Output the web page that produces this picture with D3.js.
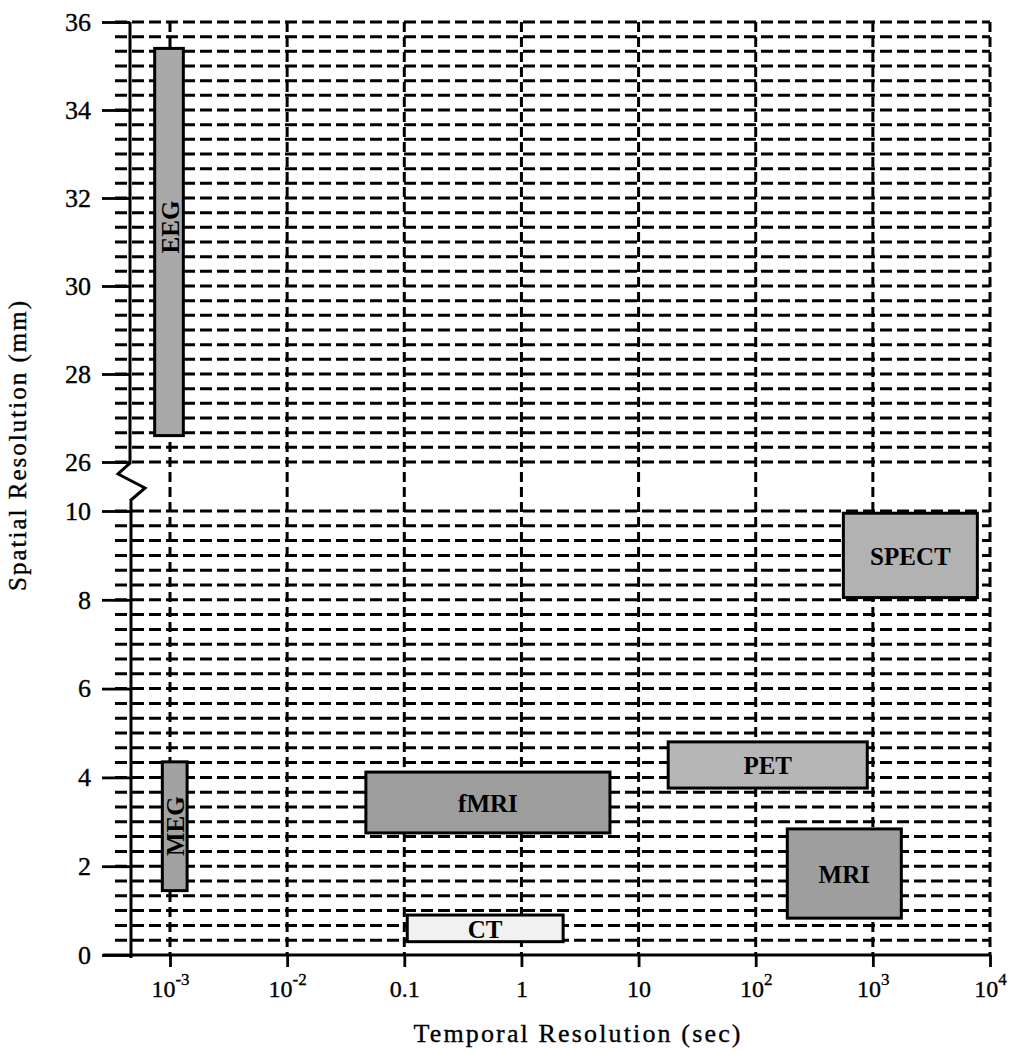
<!DOCTYPE html>
<html>
<head>
<meta charset="utf-8">
<script src="https://cdn.jsdelivr.net/npm/d3@7"></script>
<style>
  html, body { margin: 0; padding: 0; background: #fff; }
  svg { display: block; }
  text { font-family: "Liberation Serif", "DejaVu Serif", serif; fill: #000; }
  .ink { stroke: #000; stroke-width: 0.35px; }
</style>
</head>
<body>
<svg id="chart" width="1016" height="1053"></svg>
<script>
// Imaging modalities: temporal resolution (s) range and spatial resolution (mm) range
const modalities = ["EEG", "MEG", "fMRI", "CT", "PET", "MRI", "SPECT"];
const timeMin    = [0.00074, 0.00086, 0.047, 0.106, 17.9, 186, 560];
const timeMax    = [0.0013, 0.0014, 5.7, 2.27, 896, 1750, 7800];
const spaceMin   = [26.6, 1.45, 2.75, 0.3, 3.76, 0.83, 8.05];
const spaceMax   = [35.4, 4.35, 4.12, 0.9, 4.8, 2.84, 9.95];

// Axis ticks
const xTickValues = [1e-3, 1e-2, 0.1, 1, 10, 1e2, 1e3, 1e4];
const xTickBase   = ["10", "10", "0.1", "1", "10", "10", "10", "10"];
const xTickExp    = ["-3", "-2", "", "", "", "2", "3", "4"];
const yTicksLower = [0, 2, 4, 6, 8, 10];
const yTicksUpper = [26, 28, 30, 32, 34, 36];

// Styling
const boxFill = { EEG: "#a9a9a9", MEG: "#a2a2a2", fMRI: "#9d9d9d", CT: "#f1f1f1",
                  PET: "#b6b6b6", MRI: "#9e9e9e", SPECT: "#b2b2b2" };

const svg = d3.select("#chart");

// Scales: log time axis, broken spatial axis (0–10 below, 26–36 above)
const x = d3.scaleLog().domain([1e-3, 1e4]).range([170, 990]);
const yLower = d3.scaleLinear().domain([0, 10]).range([955, 511]);
const yUpper = d3.scaleLinear().domain([26, 36]).range([462, 22]);
const y = v => (v >= 26 ? yUpper(v) : yLower(v));

const xLeft = 130, xRight = x(1e4);
const gridColor = "#000";

// Horizontal dashed grid every 1/3 mm
const gridLower = d3.range(1, 31).map(i => i / 3);
const gridUpper = d3.range(0, 31).map(i => 26 + i / 3);
const grid = svg.append("g").attr("class", "grid");
grid.selectAll("line.h")
  .data(gridLower.map(yLower).concat(gridUpper.map(yUpper)))
  .join("line")
  .attr("class", "h")
  .attr("x1", 115).attr("x2", xRight)
  .attr("y1", d => d).attr("y2", d => d)
  .attr("stroke", gridColor)
  .attr("stroke-width", 3)
  .attr("stroke-dasharray", "12,5");

// Vertical dashed grid at each decade
grid.selectAll("line.v")
  .data(xTickValues)
  .join("line")
  .attr("class", "v")
  .attr("x1", d => x(d)).attr("x2", d => x(d))
  .attr("y1", yUpper(36)).attr("y2", yLower(0))
  .attr("stroke", gridColor)
  .attr("stroke-width", 3)
  .attr("stroke-dasharray", "10,5");

// Y axes (tick marks and labels), domain line drawn separately with the break mark
function styleYAxis(g) {
  g.select(".domain").remove();
  g.selectAll(".tick line").attr("stroke", "#000").attr("stroke-width", 2.8);
  g.selectAll(".tick text")
    .attr("class", "ink")
    .attr("font-size", 26)
    .attr("font-family", "Liberation Serif, serif")
    .attr("fill", "#000");
}
svg.append("g")
  .attr("transform", `translate(${xLeft},0)`)
  .call(d3.axisLeft(yLower).tickValues(yTicksLower).tickSize(28).tickPadding(11).tickFormat(d3.format("d")))
  .call(styleYAxis);
svg.append("g")
  .attr("transform", `translate(${xLeft},0)`)
  .call(d3.axisLeft(yUpper).tickValues(yTicksUpper).tickSize(28).tickPadding(11).tickFormat(d3.format("d")))
  .call(styleYAxis);

// X axis with superscript powers of ten
const xAxisG = svg.append("g")
  .attr("transform", `translate(0,${yLower(0)})`)
  .call(d3.axisBottom(x).tickValues(xTickValues).tickSize(12).tickFormat(""));
xAxisG.select(".domain").remove();
xAxisG.selectAll(".tick line").attr("stroke", "#000").attr("stroke-width", 2.8);
xAxisG.selectAll(".tick").each(function (d, i) {
  const t = d3.select(this).append("text")
    .attr("class", "ink")
    .attr("y", 42)
    .attr("text-anchor", "middle")
    .attr("font-size", 24)
    .attr("fill", "#000");
  t.append("tspan").text(xTickBase[i]);
  if (xTickExp[i]) {
    t.append("tspan").attr("font-size", 17).attr("dy", -12).text(xTickExp[i]);
  }
});

// Axis lines
svg.append("line")
  .attr("x1", 103).attr("x2", xRight)
  .attr("y1", yLower(0)).attr("y2", yLower(0))
  .attr("stroke", "#000").attr("stroke-width", 3);
svg.append("path")
  .attr("d", `M${xLeft},${yUpper(36)} L${xLeft},463 L118,474 L145,488 L${xLeft + 1},500 L${xLeft + 1},${yLower(0) + 3}`)
  .attr("fill", "none")
  .attr("stroke", "#000")
  .attr("stroke-width", 3)
  .attr("stroke-linejoin", "miter");

// Modality boxes
const boxes = svg.append("g").attr("class", "boxes");
modalities.forEach((name, i) => {
  const x0 = x(timeMin[i]), x1 = x(timeMax[i]);
  const y0 = y(spaceMax[i]), y1 = y(spaceMin[i]);
  boxes.append("rect")
    .attr("x", x0).attr("y", y0)
    .attr("width", x1 - x0).attr("height", y1 - y0)
    .attr("fill", boxFill[name])
    .attr("stroke", "#000")
    .attr("stroke-width", 3);
  const cx = (x0 + x1) / 2, cy = (y0 + y1) / 2;
  const vertical = (y1 - y0) > (x1 - x0) * 2;
  const lbl = boxes.append("text")
    .attr("text-anchor", "middle")
    .attr("dominant-baseline", "central")
    .attr("font-weight", "bold")
    .attr("font-size", 25)
    .text(name);
  if (vertical) {
    const off = name === "EEG" ? -15 : 0;
    lbl.attr("transform", `translate(${cx + 1},${cy + off}) rotate(-90)`);
  } else {
    lbl.attr("x", cx).attr("y", cy + 1);
  }
});

// Axis titles
svg.append("text")
  .attr("class", "ink")
  .attr("x", 577).attr("y", 1042)
  .attr("text-anchor", "middle")
  .attr("font-size", 26)
  .attr("textLength", 327)
  .attr("lengthAdjust", "spacing")
  .text("Temporal Resolution (sec)");
svg.append("text")
  .attr("class", "ink")
  .attr("transform", "translate(26,446) rotate(-90)")
  .attr("text-anchor", "middle")
  .attr("font-size", 25)
  .attr("textLength", 290)
  .attr("lengthAdjust", "spacing")
  .text("Spatial Resolution (mm)");
</script>
</body>
</html>
